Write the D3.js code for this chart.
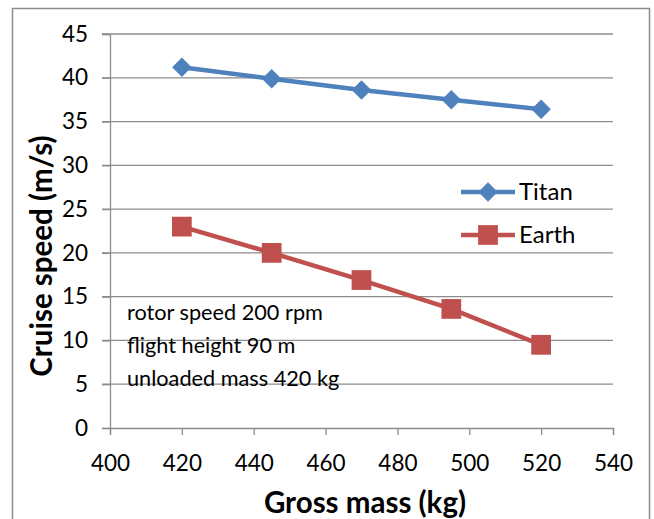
<!DOCTYPE html>
<html>
<head>
<meta charset="utf-8">
<script src="https://cdn.jsdelivr.net/npm/d3@7"></script>
<style>
  body { margin: 0; background: #fff; }
  svg { display: block; font-family: Lato, "Open Sans", sans-serif; }
</style>
</head>
<body>
<div id="chart"></div>
<script>
// Chart data
const grossMass = [420, 445, 470, 495, 520];
const titanSpeed = [41.2, 39.9, 38.6, 37.5, 36.4];
const earthSpeed = [23.0, 20.0, 16.9, 13.6, 9.5];
const xTicks = [400, 420, 440, 460, 480, 500, 520, 540];
const yTicks = [0, 5, 10, 15, 20, 25, 30, 35, 40, 45];
const notes = ['rotor speed 200 rpm', 'flight height 90 m', 'unloaded mass 420 kg'];

const width = 654, height = 519;
const margin = { left: 110, right: 41, top: 34, bottom: 91 };

const svg = d3.select('#chart').append('svg')
    .attr('width', width)
    .attr('height', height);

// Outer chart frame
svg.append('rect')
    .attr('x', 12.5).attr('y', 8.5)
    .attr('width', 637).attr('height', 530)
    .attr('fill', 'none')
    .attr('stroke', '#8c8c8c')
    .attr('stroke-width', 1.5);

const x = d3.scaleLinear().domain([400, 540]).range([margin.left, width - margin.right]);
const y = d3.scaleLinear().domain([0, 45]).range([height - margin.bottom, margin.top]);

// Gridlines
svg.append('g')
    .selectAll('line')
    .data(yTicks.filter(d => d > 0))
    .join('line')
    .attr('x1', x(400) - 8).attr('x2', x(540))
    .attr('y1', d => y(d)).attr('y2', d => y(d))
    .attr('stroke', '#8c8c8c')
    .attr('stroke-width', 1.3);

// Y axis
const yAxis = svg.append('g')
    .attr('transform', `translate(${x(400)},0)`)
    .call(d3.axisLeft(y).tickValues(yTicks).tickSize(8).tickPadding(14));
// X axis
const xAxis = svg.append('g')
    .attr('transform', `translate(0,${y(0)})`)
    .call(d3.axisBottom(x).tickValues(xTicks).tickSize(7).tickPadding(20));

[yAxis, xAxis].forEach(a => {
    a.select('.domain').attr('stroke', '#8c8c8c').attr('stroke-width', 1.3);
    a.selectAll('.tick line').attr('stroke', '#8c8c8c').attr('stroke-width', 1.3);
    a.selectAll('.tick text')
        .attr('fill', '#000')
        .attr('font-size', 22.5)
        .attr('font-family', 'Lato, "Open Sans", sans-serif');
});

// Axis titles
svg.append('text')
    .attr('x', 365).attr('y', 513)
    .attr('text-anchor', 'middle')
    .attr('font-size', 29.5).attr('font-weight', 'bold')
    .text('Gross mass (kg)');

svg.append('text')
    .attr('transform', 'translate(52,256) rotate(-90)')
    .attr('text-anchor', 'middle')
    .attr('font-size', 29.5).attr('font-weight', 'bold')
    .text('Cruise speed (m/s)');

// Series (Titan marker is a square turned 45 degrees, like Excel's diamond)
const series = [
    { name: 'Titan', values: titanSpeed, color: '#4f81bd', size: 190, rotate: 45 },
    { name: 'Earth', values: earthSpeed, color: '#c0504d', size: 390, rotate: 0 }
];

const line = d3.line().x(d => x(d[0])).y(d => y(d[1]));

series.forEach(s => {
    const pts = grossMass.map((m, i) => [m, s.values[i]]);
    svg.append('path')
        .datum(pts)
        .attr('d', line)
        .attr('fill', 'none')
        .attr('stroke', s.color)
        .attr('stroke-width', 4.5);
    svg.append('g')
        .selectAll('path')
        .data(pts)
        .join('path')
        .attr('transform', d => `translate(${x(d[0])},${y(d[1])}) rotate(${s.rotate})`)
        .attr('d', d3.symbol().type(d3.symbolSquare).size(s.size))
        .attr('fill', s.color);
});

// Legend
const legend = svg.append('g').attr('transform', 'translate(461,192)');
series.forEach((s, i) => {
    const g = legend.append('g').attr('transform', `translate(0,${i * 43})`);
    g.append('line')
        .attr('x1', 0).attr('x2', 54)
        .attr('stroke', s.color).attr('stroke-width', 4.5);
    g.append('path')
        .attr('transform', `translate(27,0) rotate(${s.rotate})`)
        .attr('d', d3.symbol().type(d3.symbolSquare).size(s.size))
        .attr('fill', s.color);
    g.append('text')
        .attr('x', 58).attr('y', 8)
        .attr('font-size', 24)
        .text(s.name);
});

// Annotation
svg.append('g')
    .selectAll('text')
    .data(notes)
    .join('text')
    .attr('x', 127)
    .attr('y', (d, i) => 320 + i * 33)
    .attr('font-size', 21.7)
    .text(d => d);
</script>
</body>
</html>
